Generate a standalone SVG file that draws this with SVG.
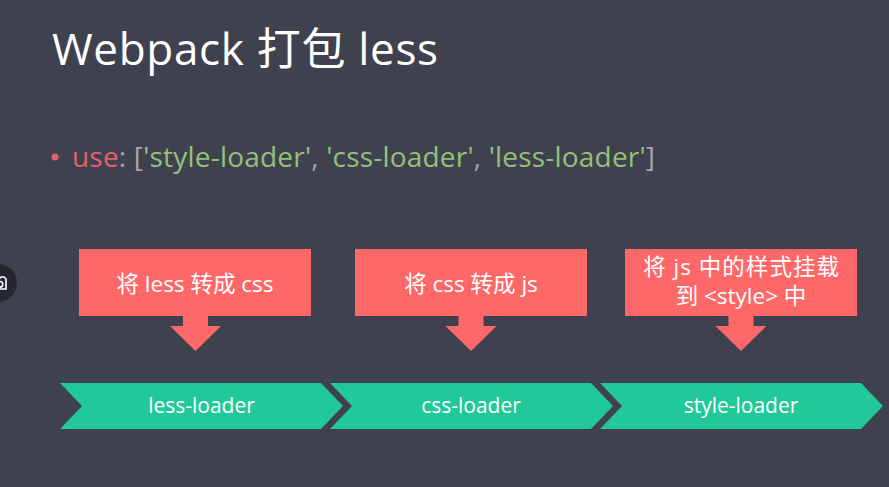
<svg xmlns="http://www.w3.org/2000/svg" width="889" height="487" viewBox="0 0 889 487">
  <style>
    .bg { fill: #40414f; }
    .note { fill: #ff6868; }
    .step { fill: #20c997; }
    .t { font-family: "Open Sans", "Noto Sans", "Noto Sans CJK SC", sans-serif; fill: #ffffff; }
    .lbl { font-size: 22.5px; text-anchor: middle; }
    .lbl2 { font-size: 22.5px; text-anchor: middle; }
    .stp { font-size: 21px; text-anchor: middle; }
  </style>
  <defs>
    <path id="chev" d="M0,0 H261 L283,23 L261,46 H0 L22,23 Z"/>
    <path id="arrow" d="M-12.5,0 H12.5 V10 H25.5 L0,35 L-25.5,10 H-12.5 Z"/>
  </defs>
  <rect class="bg" x="0" y="0" width="889" height="487"/>

  <g id="overlay-icon">
    <circle cx="-2" cy="283" r="19" fill="#25262f"/>
    <path d="M-6,279 H-1 L1,277 H4 L6,279 V289 H-6 Z M0,281.5 A2.8,2.8 0 1 1 0,287.1 A2.8,2.8 0 1 1 0,281.5 Z" fill="none" stroke="#ffffff" stroke-width="1.6"/>
  </g>

  <g id="title">
    <text class="t" x="52" y="65" font-size="44" textLength="386">Webpack 打包 less</text>
  </g>

  <g id="bullet">
    <circle cx="55" cy="157" r="3.5" fill="#e0606e"/>
    <text x="72" y="167" font-family="'Open Sans', 'Noto Sans', sans-serif" font-size="28" textLength="583"><tspan fill="#e0606e">use</tspan><tspan fill="#a3a7b3">: [</tspan><tspan fill="#92c27a">'style-loader'</tspan><tspan fill="#a3a7b3">, </tspan><tspan fill="#92c27a">'css-loader'</tspan><tspan fill="#a3a7b3">, </tspan><tspan fill="#92c27a">'less-loader'</tspan><tspan fill="#a3a7b3">]</tspan></text>
  </g>

  <g id="connectors">
    <use href="#arrow" class="note" x="195.5" y="316"/>
    <use href="#arrow" class="note" x="471" y="316"/>
    <use href="#arrow" class="note" x="741" y="316"/>
  </g>

  <g id="note-less">
    <rect class="note" x="79" y="249" width="232" height="67"/>
    <text class="t lbl" x="195" y="292">将 less 转成 css</text>
  </g>
  <g id="note-css">
    <rect class="note" x="355" y="249" width="232" height="67"/>
    <text class="t lbl" x="471" y="292">将 css 转成 js</text>
  </g>
  <g id="note-style">
    <rect class="note" x="625" y="249" width="232" height="67"/>
    <text class="t lbl2" x="741" y="275" textLength="196">将 js 中的样式挂载</text>
    <text class="t lbl2" x="741" y="304">到 &lt;style&gt; 中</text>
  </g>

  <g id="step-less-loader">
    <use href="#chev" class="step" x="60" y="383"/>
    <text class="t stp" x="201.5" y="413">less-loader</text>
  </g>
  <g id="step-css-loader">
    <use href="#chev" class="step" x="330" y="383"/>
    <text class="t stp" x="471" y="413">css-loader</text>
  </g>
  <g id="step-style-loader">
    <use href="#chev" class="step" x="600" y="383"/>
    <text class="t stp" x="741" y="413">style-loader</text>
  </g>
</svg>
